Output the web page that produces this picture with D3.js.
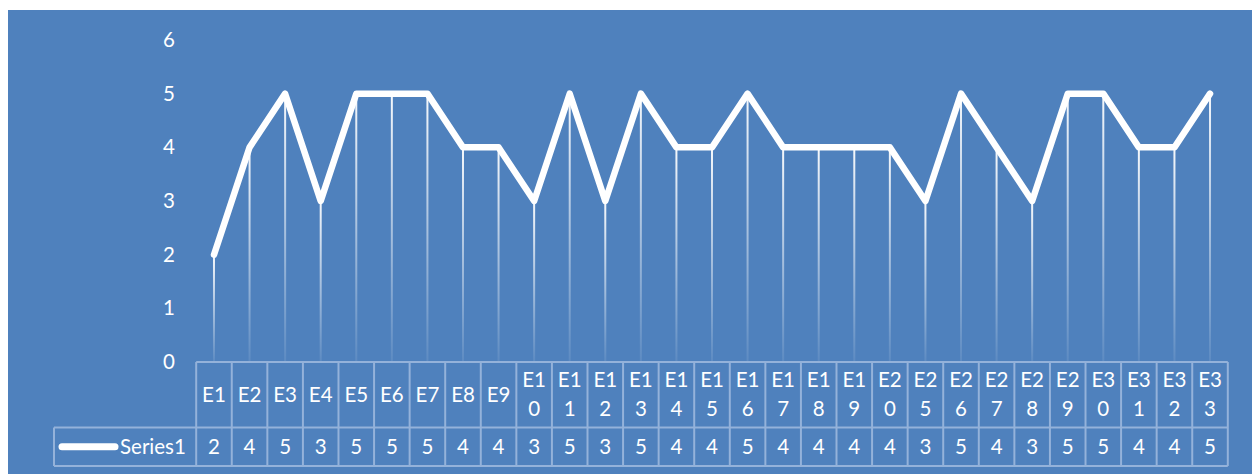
<!DOCTYPE html>
<html>
<head>
<meta charset="utf-8">
<script src="https://cdn.jsdelivr.net/npm/d3@7"></script>
<style>
  html, body { margin: 0; padding: 0; background: #ffffff; }
  svg { display: block; }
  text { font-family: Lato, "Open Sans", sans-serif; fill: #ffffff; }
</style>
</head>
<body>
<svg id="chart" width="1252" height="474"></svg>
<script>
// Categories, their values and axis ticks
const categories = ["E1","E2","E3","E4","E5","E6","E7","E8","E9","E10","E11","E12","E13","E14","E15","E16","E17","E18","E19","E20","E25","E26","E27","E28","E29","E30","E31","E32","E33"];
const series1 = [2,4,5,3,5,5,5,4,4,3,5,3,5,4,4,5,4,4,4,4,3,5,4,3,5,5,4,4,5];
const seriesName = "Series1";
const yTicks = [0,1,2,3,4,5,6];

(function () {
const svg = d3.select("#chart");
const W = 1252, H = 474;
const fs = 20.5;

// Chart background
svg.append("rect").attr("x", 8).attr("y", 10).attr("width", W - 8).attr("height", H - 10).attr("fill", "#4F81BD");

const plotLeft = 196.2, plotRight = 1227.8, plotTop = 40, plotBottom = 362;
const x = d3.scaleBand().domain(categories).range([plotLeft, plotRight]).paddingInner(0).paddingOuter(0);
const y = d3.scaleLinear().domain([0, 6]).range([plotBottom, plotTop]);
const cx = d => x(d) + x.bandwidth() / 2;

const defs = svg.append("defs");
const grad = defs.append("linearGradient").attr("id", "dropFade")
  .attr("x1", 0).attr("y1", 0).attr("x2", 0).attr("y2", 1);
grad.append("stop").attr("offset", "0%").attr("stop-color", "#ffffff").attr("stop-opacity", 0.95);
grad.append("stop").attr("offset", "100%").attr("stop-color", "#ffffff").attr("stop-opacity", 0.08);

// Y axis labels
const yAxis = d3.axisLeft(y).tickValues(yTicks).tickFormat(d3.format("d")).tickSize(0).tickPadding(0);
const yg = svg.append("g").attr("transform", `translate(175,0)`).call(yAxis);
yg.select(".domain").remove();
yg.selectAll("text").attr("font-size", fs).attr("fill", "#ffffff")
  .style("font-family", "Lato, 'Open Sans', sans-serif");

// Drop lines from each point to the axis
svg.append("g").selectAll("rect").data(categories).join("rect")
  .attr("x", d => cx(d) - 1)
  .attr("y", (d, i) => y(series1[i]))
  .attr("width", 2)
  .attr("height", (d, i) => plotBottom - y(series1[i]))
  .attr("fill", "url(#dropFade)");

// Series line
const line = d3.line().x((d, i) => cx(categories[i])).y(d => y(d));
svg.append("path").datum(series1).attr("d", line)
  .attr("fill", "none").attr("stroke", "#ffffff").attr("stroke-width", 6.5)
  .attr("stroke-linejoin", "round").attr("stroke-linecap", "round");

// Data table
const gridColor = "#94B2DA";
const rowTop = plotBottom, rowMid = 427.5, rowBot = 466;
const tbl = svg.append("g").attr("stroke", gridColor).attr("stroke-width", 2).attr("fill", "none");
tbl.append("line").attr("x1", plotLeft).attr("x2", plotRight).attr("y1", rowTop).attr("y2", rowTop);
tbl.append("line").attr("x1", 54).attr("x2", plotRight).attr("y1", rowMid).attr("y2", rowMid);
tbl.append("line").attr("x1", 54).attr("x2", plotRight).attr("y1", rowBot).attr("y2", rowBot);
tbl.append("line").attr("x1", 54).attr("x2", 54).attr("y1", rowMid).attr("y2", rowBot);
const edges = categories.map(d => x(d)).concat([plotRight]);
tbl.selectAll("line.v").data(edges).join("line").attr("class", "v")
  .attr("x1", d => d).attr("x2", d => d).attr("y1", rowTop).attr("y2", rowBot);

// Category labels, wrapped to two characters per line
const hdr = svg.append("g");
categories.forEach(c => {
  const parts = c.length > 2 ? [c.slice(0, 2), c.slice(2)] : [c];
  const mid = (rowTop + rowMid) / 2;
  const lh = 29;
  parts.forEach((p, k) => {
    const yy = mid + (k - (parts.length - 1) / 2) * lh;
    hdr.append("text").attr("x", cx(c)).attr("y", yy).attr("dy", "0.35em")
      .attr("text-anchor", "middle").attr("font-size", fs).text(p);
  });
});

// Values row
const valY = (rowMid + rowBot) / 2;
svg.append("g").selectAll("text").data(series1).join("text")
  .attr("x", (d, i) => cx(categories[i])).attr("y", valY).attr("dy", "0.35em")
  .attr("text-anchor", "middle").attr("font-size", fs).text(d => d);

// Legend key inside the table
svg.append("line").attr("x1", 62).attr("x2", 115).attr("y1", valY).attr("y2", valY)
  .attr("stroke", "#ffffff").attr("stroke-width", 7).attr("stroke-linecap", "round");
svg.append("text").attr("x", 120).attr("y", valY).attr("dy", "0.35em")
  .attr("font-size", fs).text(seriesName);
})();
</script>
</body>
</html>
